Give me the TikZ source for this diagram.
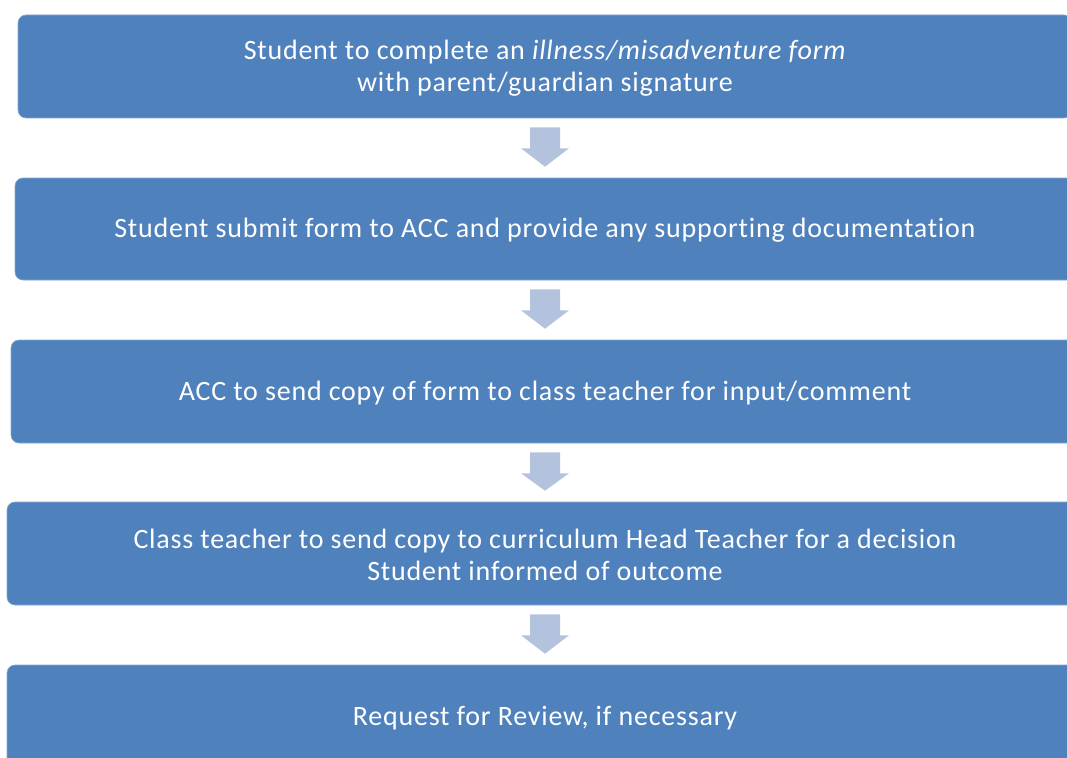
\documentclass[tikz,border=0pt]{standalone}
\usepackage{fontspec}
\setmainfont{Carlito}[LetterSpace=2.8, Ligatures=NoCommon]
\usetikzlibrary{calc}
\definecolor{boxblue}{HTML}{4F81BD}
\definecolor{arrowblue}{HTML}{B3C3DE}
\tikzset{
  stepbox/.style={fill=boxblue, draw=boxblue!70!white, line width=0.6pt, rounded corners=8pt, minimum height=103pt, inner sep=0pt},
  steptext/.style={text=white, font=\fontsize{28}{32}\selectfont, align=center, yshift=-1.5pt},
  downarrow/.style={fill=arrowblue, draw=none}
}
\begin{document}
\begin{tikzpicture}[x=1pt,y=1pt]
\useasboundingbox (0,0) rectangle (1067,-757);
\clip (0,0) rectangle (1067,-757);
\node[stepbox, minimum width=1054pt] (b1) at (545,-66.5) {};
\node[stepbox, minimum width=1060pt, minimum height=102pt] (b2) at (545,-229) {};
\node[stepbox, minimum width=1068pt] (b3) at (545,-391.5) {};
\node[stepbox, minimum width=1076pt] (b4) at (545,-553.5) {};
\node[stepbox, minimum width=1076pt] (b5) at (545,-716.5) {};
\node[steptext] (t1) at (b1.center) {Student to complete an \textit{illness/misadventure form}\\with parent/guardian signature};
\node[steptext] (t2) at (b2.center) {Student submit form to ACC and provide any supporting documentation};
\node[steptext] (t3) at (b3.center) {ACC to send copy of form to class teacher for input/comment};
\node[steptext] (t4) at (b4.center) {Class teacher to send copy to curriculum Head Teacher for a decision\\Student informed of outcome};
\node[steptext] (t5) at (b5.center) {Request for Review, if necessary};
\foreach \a/\b in {b1/b2,b2/b3,b3/b4,b4/b5}{
  \fill[downarrow] ($(\a.south)+(-15,-9)$) -- ($(\a.south)+(15,-9)$) -- ($(\a.south)+(15,-30)$) -- ($(\a.south)+(24,-30)$) -- ($(\b.north)+(0,11)$) -- ($(\a.south)+(-24,-30)$) -- ($(\a.south)+(-15,-30)$) -- cycle;
}
\end{tikzpicture}
\end{document}
